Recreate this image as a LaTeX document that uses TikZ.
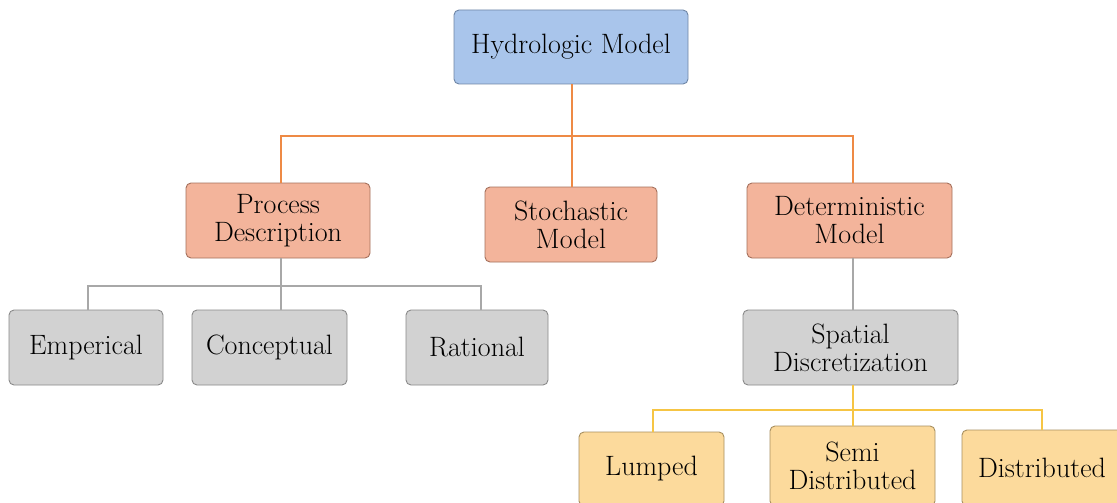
\documentclass[tikz,border=0pt]{standalone}
\definecolor{blueFill}{HTML}{A9C5EB}
\definecolor{blueEdge}{HTML}{6F86A6}
\definecolor{orangeFill}{HTML}{F3B49B}
\definecolor{orangeEdge}{HTML}{A5705C}
\definecolor{grayFill}{HTML}{D2D2D2}
\definecolor{grayEdge}{HTML}{8A8A8A}
\definecolor{yellowFill}{HTML}{FCDA9C}
\definecolor{yellowEdge}{HTML}{A89060}
\definecolor{orangeLine}{HTML}{EE8A45}
\definecolor{grayLine}{HTML}{A8A8A8}
\definecolor{yellowLine}{HTML}{F6C544}
\tikzset{
  box/.style={draw, rounded corners=5pt, line width=0.9pt, align=center,
    inner sep=0pt, font=\fontsize{28}{28}\selectfont, text=black},
  blueBox/.style={box, fill=blueFill, draw=blueEdge},
  orangeBox/.style={box, fill=orangeFill, draw=orangeEdge},
  grayBox/.style={box, fill=grayFill, draw=grayEdge},
  yellowBox/.style={box, fill=yellowFill, draw=yellowEdge},
  link/.style={line width=1.4pt},
}
\begin{document}
\begin{tikzpicture}[x=1pt,y=-1pt]
\useasboundingbox (0,0) rectangle (1117,503);
\clip (0,0) rectangle (1117,503);
\fill[white] (0,0) rectangle (1117,503);

% top level
\node[blueBox, minimum width=234pt, minimum height=74pt] (hm) at (571,47) {Hydrologic Model};

% second level
\node[orangeBox, minimum width=184pt, minimum height=75pt] (pd) at (278,220.5) {Process\\Description};
\node[orangeBox, minimum width=172pt, minimum height=75pt] (sm) at (571,224.5) {Stochastic\\Model};
\node[orangeBox, minimum width=205pt, minimum height=75pt] (dm) at (849.5,220.5) {Deterministic\\Model};

% third level
\node[grayBox, minimum width=154pt, minimum height=75pt] (em) at (86,347.5) {Emperical};
\node[grayBox, minimum width=155pt, minimum height=75pt] (cp) at (269.5,347.5) {Conceptual};
\node[grayBox, minimum width=142pt, minimum height=75pt] (ra) at (477,347.5) {Rational};
\node[grayBox, minimum width=215pt, minimum height=75pt] (sd) at (850.5,347.5) {Spatial\\Discretization};

% fourth level (runs past the lower edge)
\node[yellowBox, minimum width=145pt, minimum height=74pt] (lu) at (651.5,469) {Lumped};
\node[yellowBox, minimum width=165pt, minimum height=80pt] (se) at (852.5,466) {Semi\\Distributed};
\node[yellowBox, minimum width=160pt, minimum height=76pt] (di) at (1042,468) {Distributed};

% connectors
\coordinate (j1) at (572,136);
\draw[link, orangeLine] (hm.south -| j1) -- (j1);
\draw[link, orangeLine] (j1) -| (pd.north -| 281,0);
\draw[link, orangeLine] (j1) -| (dm.north -| 853,0);
\draw[link, orangeLine] (j1) -- (sm.north -| j1);

\coordinate (j2) at (281,286);
\draw[link, grayLine] (pd.south -| j2) -- (j2);
\draw[link, grayLine] (j2) -| (em.north -| 88,0);
\draw[link, grayLine] (j2) -| (ra.north -| 481,0);
\draw[link, grayLine] (j2) -- (cp.north -| j2);

\draw[link, grayLine] (dm.south -| 853,0) -- (sd.north -| 853,0);

\coordinate (j3) at (853,410);
\draw[link, yellowLine] (sd.south -| j3) -- (j3);
\draw[link, yellowLine] (j3) -| (lu.north -| 653,0);
\draw[link, yellowLine] (j3) -| (di.north);
\draw[link, yellowLine] (j3) -- (se.north -| j3);
\end{tikzpicture}
\end{document}
